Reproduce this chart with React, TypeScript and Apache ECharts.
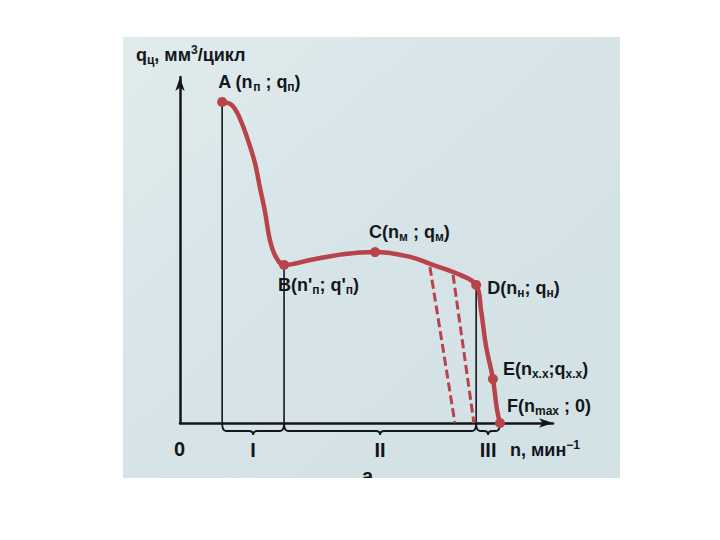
import React, { useEffect, useRef } from "react";
import * as echarts from "echarts";

// Curve q_ц(n) (arbitrary units, 0..100 on both axes)
const curveN = [11.3, 13.9, 16.1, 18.2, 20.1, 21.4, 22.8, 24.1, 25.7, 27.9, 34.9, 43.7, 52.3, 61.7, 67.8, 75.1, 79.4, 80.7, 82.0, 83.9, 85.0, 85.8];
const curveQ = [92.8, 91.9, 87.9, 81.8, 75.1, 68.2, 61.0, 52.9, 48.0, 45.7, 47.1, 48.8, 49.4, 48.0, 45.7, 42.8, 39.9, 32.7, 22.5, 12.7, 3.8, 0];

// Key points (indices into the curve) and their labels
const keyIndex = [0, 9, 12, 16, 19, 21];
const keyLabels = [
  "{b|A (n}{s|п}{b| ; q}{s|п}{b|)}",
  "{b|B(n'}{s|п}{b|; q'}{s|п}{b|)}",
  "{b|C(n}{s|м}{b| ; q}{s|м}{b|)}",
  "{b|D(n}{s|н}{b|; q}{s|н}{b|)}",
  "{b|E(n}{s|x.x}{b|;q}{s|x.x}{b|)}",
  "{b|F(n}{s|max}{b| ; 0)}",
];

// Dashed partial-load branches
const dash1N = [67.0, 73.7];
const dash1Q = [45.1, 0];
const dash2N = [73.2, 78.8];
const dash2Q = [42.8, 0];

// Zones under the axis (between key points A-B, B-D, D-F)
const zoneNames = ["I", "II", "III"];
const zoneBounds = [[0, 1], [1, 3], [3, 5]]; // indices into keyIndex

const RED = "#b8434b";
const INK = "#14161c";
const FONT = "'Liberation Sans', Arial, sans-serif";

const rich = {
  b: { fontSize: 18, fontWeight: "bold", color: INK, fill: INK, fontFamily: FONT, lineHeight: 22 },
  s: { fontSize: 12, fontWeight: "bold", color: INK, fill: INK, fontFamily: FONT, lineHeight: 12, verticalAlign: "bottom" },
  p: { fontSize: 12, fontWeight: "bold", color: INK, fill: INK, fontFamily: FONT, lineHeight: 12, verticalAlign: "top" },
};

// label placement relative to each key point (pixels): dx, dy, vertical anchor
const labelPlace: [number, number, string][] = [
  [-4, -9, "bottom"],
  [-6, 9, "top"],
  [-6, -9, "bottom"],
  [11, 3, "middle"],
  [10, -10, "middle"],
  [7, -17, "middle"],
];

export default function App() {
  const ref = useRef<HTMLDivElement>(null);

  useEffect(() => {
    if (!ref.current) return;
    const chart = echarts.init(ref.current, null, { renderer: "svg" });

    const keyN = keyIndex.map((i) => curveN[i]);
    const keyQ = keyIndex.map((i) => curveQ[i]);

    const verticals = [0, 1, 3].map((k) => ({
      type: "line",
      data: [
        [keyN[k], keyQ[k]],
        [keyN[k], 0],
      ],
      symbol: "none",
      lineStyle: { color: INK, width: 1.6 },
      z: 2,
      silent: true,
    }));

    const axisCommon = {
      type: "value",
      min: 0,
      max: 100,
      axisLine: {
        show: true,
        symbol: ["none", "arrow"],
        symbolSize: [7, 14],
        lineStyle: { color: INK, width: 2.5 },
      },
      axisTick: { show: false },
      axisLabel: { show: false },
      splitLine: { show: false },
    };

    const option: any = {
      animation: false,
      backgroundColor: "#ffffff",
      grid: { left: 180, right: 167, top: 77, bottom: 117 },
      xAxis: axisCommon,
      yAxis: axisCommon,
      graphic: [
        {
          type: "rect",
          z: -10,
          silent: true,
          shape: { x: 123, y: 37, width: 497, height: 441 },
          style: {
            fill: new echarts.graphic.LinearGradient(0, 0, 1, 1, [
              { offset: 0, color: "#e0ebec" },
              { offset: 0.5, color: "#d6e4e8" },
              { offset: 1, color: "#d2e1e4" },
            ]),
          },
        },
        {
          type: "text",
          left: 136,
          top: 44,
          style: { text: "{b|q}{s|ц}{b|, мм}{p|3}{b|/цикл}", rich },
        },
        {
          type: "text",
          left: 174,
          top: 439,
          style: { text: "0", font: `bold 20px ${FONT}`, fill: INK },
        },
        {
          type: "text",
          left: 510,
          top: 439,
          style: { text: "{b|n, мин}{p|−1}", rich },
        },
        {
          type: "text",
          left: 362,
          top: 466,
          z: 5,
          style: { text: "а", font: `bold 20px ${FONT}`, fill: INK },
        },
        {
          type: "rect",
          z: 50,
          silent: true,
          shape: { x: 0, y: 478, width: 720, height: 62 },
          style: { fill: "#ffffff" },
        },
      ],
      series: [
        ...verticals,
        {
          type: "line",
          data: dash1N.map((n, i) => [n, dash1Q[i]]),
          symbol: "none",
          lineStyle: { color: RED, width: 3, type: [9, 4] },
          z: 3,
        },
        {
          type: "line",
          data: dash2N.map((n, i) => [n, dash2Q[i]]),
          symbol: "none",
          lineStyle: { color: RED, width: 3, type: [9, 4] },
          z: 3,
        },
        {
          type: "line",
          data: curveN.map((n, i) => [n, curveQ[i]]),
          smooth: 0.4,
          symbol: "none",
          lineStyle: { color: RED, width: 4.5 },
          z: 4,
        },
        {
          // key points with their labels
          type: "custom",
          clip: false,
          z: 6,
          data: keyN.map((n, i) => [n, keyQ[i], i]),
          renderItem: (params: any, api: any) => {
            const p = api.coord([api.value(0), api.value(1)]);
            const i = api.value(2);
            const [dx, dy, va] = labelPlace[i];
            return {
              type: "group",
              children: [
                {
                  type: "circle",
                  shape: { cx: p[0], cy: p[1], r: 5 },
                  style: { fill: RED },
                },
                {
                  type: "text",
                  x: p[0] + dx,
                  y: p[1] + dy,
                  style: {
                    text: keyLabels[i],
                    rich,
                    fill: INK,
                    align: "left",
                    verticalAlign: va,
                  },
                },
              ],
            };
          },
        },
        {
          type: "custom",
          clip: false,
          z: 5,
          data: zoneBounds.map((b, i) => [keyN[b[0]], keyN[b[1]], i]),
          renderItem: (params: any, api: any) => {
            const p1 = api.coord([api.value(0), 0]);
            const p2 = api.coord([api.value(1), 0]);
            const x1 = p1[0];
            const x2 = p2[0];
            const y0 = p1[1];
            const m = (x1 + x2) / 2;
            const r = Math.min(4, (x2 - x1) / 4);
            const d =
              `M${x1} ${y0} Q${x1} ${y0 + 8} ${x1 + r} ${y0 + 8} ` +
              `L${m - r} ${y0 + 8} Q${m} ${y0 + 8} ${m} ${y0 + 12} ` +
              `Q${m} ${y0 + 8} ${m + r} ${y0 + 8} ` +
              `L${x2 - r} ${y0 + 8} Q${x2} ${y0 + 8} ${x2} ${y0}`;
            const name = zoneNames[api.value(2)];
            return {
              type: "group",
              children: [
                {
                  type: "path",
                  shape: { pathData: d },
                  style: { stroke: INK, lineWidth: 1.8, fill: "none" },
                },
                {
                  type: "text",
                  x: m,
                  y: y0 + 27,
                  style: {
                    text: name,
                    font: `bold 20px ${FONT}`,
                    fill: INK,
                    align: "center",
                    verticalAlign: "middle",
                  },
                },
              ],
            };
          },
        },
      ],
    };

    chart.setOption(option);
    return () => chart.dispose();
  }, []);

  return (
    <div
      ref={ref}
      style={{ position: "fixed", left: 0, top: 0, width: 720, height: 540 }}
    />
  );
}
